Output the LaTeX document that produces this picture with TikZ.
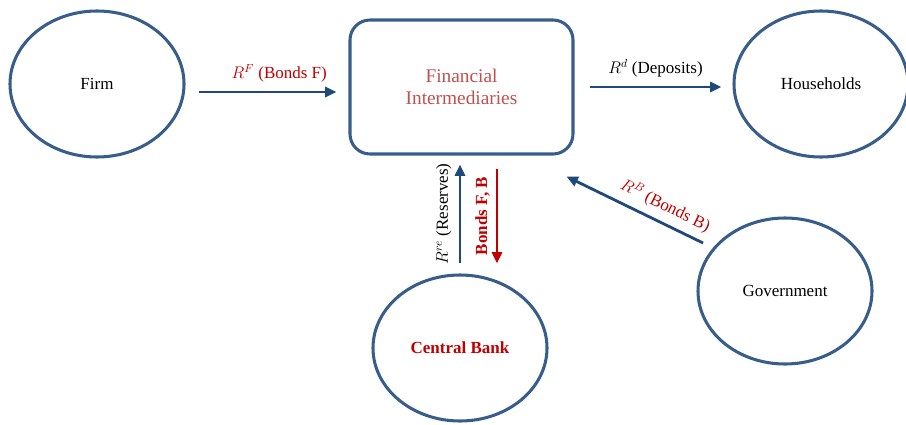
\documentclass[tikz,border=0pt]{standalone}
\usepackage{fontspec}
\setmainfont{Liberation Serif}
\usepackage{xcolor}
\usetikzlibrary{
  arrows.meta,
  calc,
  shapes.geometric
}
\definecolor{rimblue}{RGB}{56,93,138}
\definecolor{flowblue}{RGB}{31,73,125}
\definecolor{darkred}{RGB}{192,0,0}
\definecolor{softred}{RGB}{192,80,77}
\tikzset{
  agent/.style={
    ellipse,
    draw=rimblue,
    line width=2.6pt,
    minimum width=5.22cm,
    minimum height=4.38cm,
    align=center,
    font=\fontsize{14.5}{17}\selectfont
  },
  hub/.style={
    rounded corners=0.6cm,
    draw=rimblue,
    line width=2.6pt,
    minimum width=6.69cm,
    minimum height=4.02cm,
    align=center,
    text=softred,
    font=\fontsize{16.5}{19}\selectfont
  },
  flow/.style={
    -{Triangle[length=3.4mm,width=3mm]},
    line width=2.4pt,
    draw=flowblue
  },
  flowred/.style={
    flow,
    draw=darkred
  },
  lbl/.style={ font=\fontsize{14.5}{17}\selectfont, inner sep=2pt }
}

\begin{document}
\begin{tikzpicture}[x=0.03cm, y=-0.03cm]
  \useasboundingbox (0,0) rectangle (906,424);
  % agents and the intermediary
  \node[agent] (firm) at (97,84) {Firm};
  \node[hub] (fi) at (461.5,87) {Financial\\Intermediaries};
  \node[agent] (hh) at (821,84) {Households};
  \node[agent] (gov) at (785,291) {Government};
  \node[agent, font=\fontsize{14.5}{17}\selectfont\bfseries, text=darkred] (cb) at (460,348) {Central Bank};

  % flows
  \draw[flow] ($(firm.east)+(13,8)$) -- ($(fi.west)+(-12,5)$)
    node[lbl, midway, above=5pt, xshift=10, text=darkred] (rf) {$R^F$ (Bonds F)};
  \draw[flow] ($(fi.east)+(15,0)$) -- ($(hh.west)+(-11,3)$)
    node[lbl, midway, above=5pt] (rd) {$R^d$ (Deposits)};
  \coordinate (res) at ($(cb.north)+(0,-10)$);
  \draw[flow] (res) -- ($(res |- fi.south)+(0,9)$)
    node[lbl, midway, rotate=90, anchor=south, yshift=4pt] (rre) {$R^{re}$ (Reserves)};
  \coordinate (bnd) at ($(fi.south)+(35.5,13)$);
  \draw[flowred] (bnd) -- ($(bnd |- cb.north)+(0,-10)$)
    node[lbl, midway, rotate=90, anchor=south, yshift=3pt, text=darkred, font=\fontsize{14.5}{17}\selectfont\bfseries] (bfb) {Bonds F, B};
  \draw[flow] ($(gov.center)+(-82,-48)$) -- ($(fi.south east)+(-8,21)$)
    node[lbl, pos=0.33, sloped, above=4pt, text=darkred] (rb) {$R^B$ (Bonds B)};
\end{tikzpicture}
\end{document}
